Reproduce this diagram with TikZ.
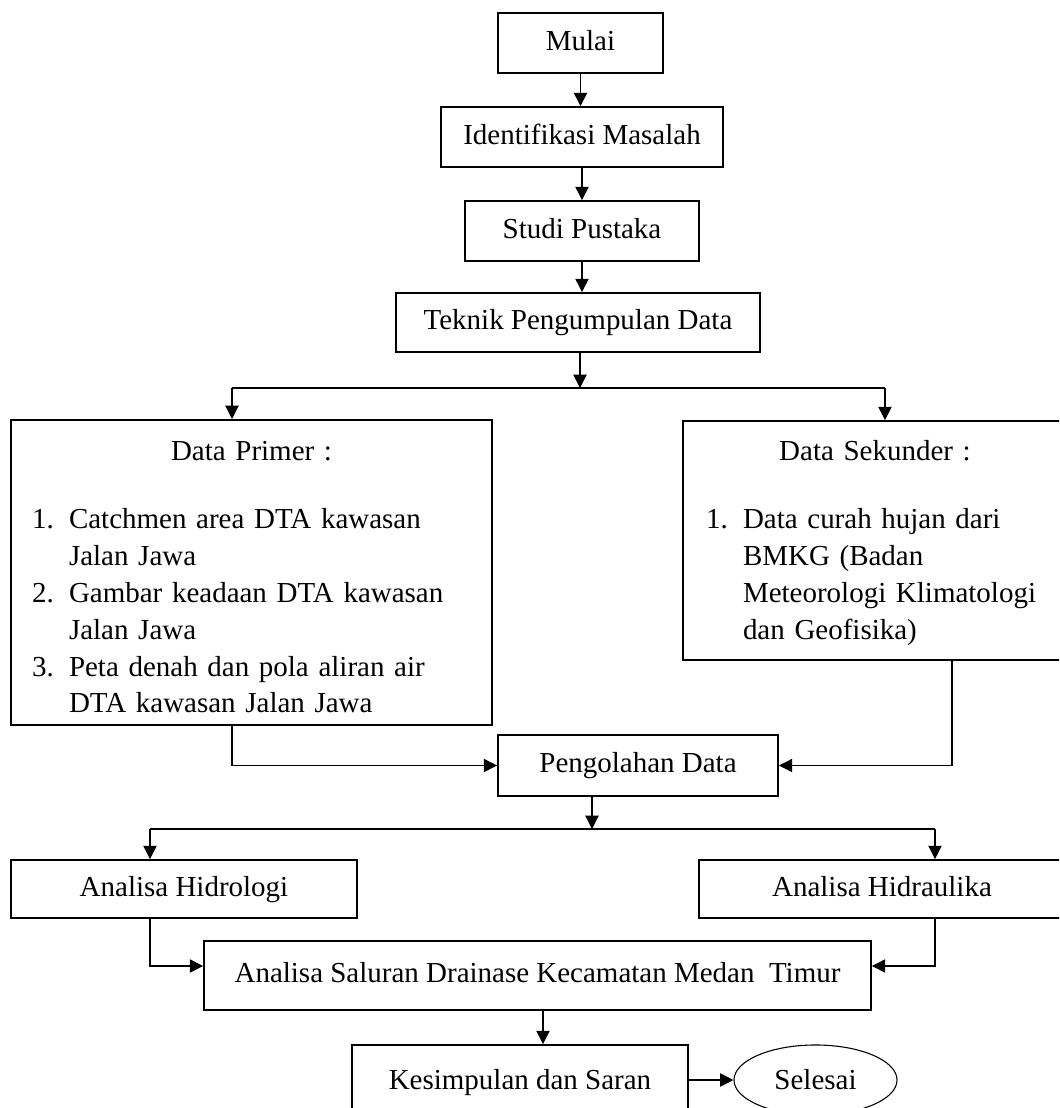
\documentclass[tikz,border=0pt]{standalone}
\usepackage{fontspec}
\setmainfont{Liberation Serif}
\usetikzlibrary{arrows.meta,shapes.geometric}
\begin{document}
\begin{tikzpicture}[x=0.414pt, y=-0.414pt, font=\fontsize{12}{15.3}\selectfont,
    line join=miter, >={Triangle[length=5.5pt,width=5.5pt]},
    kotak/.style={draw, line width=0.8pt, inner sep=0pt, minimum height=24.8pt, text height=8.3pt, text depth=2.5pt},
    daftar/.style={draw, line width=0.8pt, inner ysep=0pt, align=left},
    bulat/.style={draw, ellipse, line width=0.45pt, inner sep=0pt},
    garis/.style={line width=0.45pt}]
    \useasboundingbox (0,0) rectangle (1059,1108);
    \clip (0,0) rectangle (1059,1108);
    \node[kotak, minimum width=68.3pt] (mulai) at (580.5,43) {Mulai};
    \node[kotak, minimum width=116.7pt] (ident) at (582,137) {Identifikasi Masalah};
    \node[kotak, minimum width=96.9pt] (studi) at (582,231) {Studi Pustaka};
    \node[kotak, minimum width=150.7pt, minimum height=24.4pt] (teknik) at (578,322.5) {Teknik Pengumpulan Data};
    \node[daftar, inner xsep=8.7pt, text width=181.7pt, minimum height=126.3pt] (primer) at (251.5,572.5) {%
        {\centering\rule{0pt}{16.2pt}Data Primer :\par}\vspace{12.9pt}
        \begin{tabular}[t]{@{}l@{\hspace{6.3pt}}l@{}}
        1. & Catchmen area DTA kawasan\\
           & Jalan Jawa\\
        2. & Gambar keadaan DTA kawasan\\
           & Jalan Jawa\\
        3. & Peta denah dan pola aliran air\\
           & DTA kawasan Jalan Jawa
        \end{tabular}};
    \node[daftar, inner xsep=9.5pt, text width=139.9pt, minimum height=98.9pt] (sekunder) at (875,540.5) {%
        {\centering\rule{0pt}{12.5pt}Data Sekunder :\par}\vspace{12.9pt}
        \begin{tabular}[t]{@{}l@{\hspace{6.3pt}}l@{}}
        1. & Data curah hujan dari\\
           & BMKG (Badan\\
           & Meteorologi Klimatologi\\
           & dan Geofisika)
        \end{tabular}};
    \node[kotak, minimum width=115.9pt, minimum height=25.3pt] (pengolahan) at (638,765.5) {Pengolahan Data};
    \node[kotak, minimum width=143.2pt, minimum height=24pt] (hidrologi) at (184,889) {Analisa Hidrologi};
    \node[kotak, minimum width=151.5pt, minimum height=24pt] (hidraulika) at (882,889) {Analisa Hidraulika};
    \node[kotak, minimum width=276.1pt, minimum height=28.6pt] (saluran) at (537.5,975.5) {Analisa Saluran Drainase Kecamatan Medan~~Timur};
    \node[kotak, minimum width=139.1pt, minimum height=30.6pt] (kesimpulan) at (520,1082) {Kesimpulan dan Saran};
    \node[bulat, minimum width=67.5pt, minimum height=29pt] (selesai) at (815.5,1080) {Selesai};
    \coordinate (cabang1) at (580,388);
    \coordinate (kiri1) at (232,388);
    \coordinate (kanan1) at (885,388);
    \coordinate (turunsek) at (952,700);
    \coordinate (cabang2) at (592,829);
    \coordinate (kiri2) at (150,829);
    \coordinate (kanan2) at (935,829);
    \coordinate (gabung) at (0,966);
    \coordinate (turun) at (543,1020);
    \foreach \a/\b in {mulai/ident, ident/studi, studi/teknik}
        \draw[garis,->] (\a.south) -- (\a.south |- \b.north);
    \draw[garis,->] (teknik.south -| cabang1) -- (cabang1);
    \draw[garis] (kiri1) -- (kanan1);
    \draw[garis,->] (kiri1) -- (kiri1 |- primer.north);
    \draw[garis,->] (kanan1) -- (kanan1 |- sekunder.north);
    \draw[garis,->] (primer.south -| kiri1) |- (pengolahan.west);
    \draw[garis,->] (sekunder.south -| turunsek) |- (pengolahan.east);
    \draw[garis,->] (pengolahan.south -| cabang2) -- (cabang2);
    \draw[garis] (kiri2) -- (kanan2);
    \draw[garis,->] (kiri2) -- (kiri2 |- hidrologi.north);
    \draw[garis,->] (kanan2) -- (kanan2 |- hidraulika.north);
    \draw[garis,->] (hidrologi.south -| kiri2) |- (saluran.west |- gabung);
    \draw[garis,->] (hidraulika.south -| kanan2) |- (saluran.east |- gabung);
    \draw[garis,->] (saluran.south -| turun) -- (kesimpulan.north -| turun);
    \draw[garis,->] (kesimpulan.east |- selesai.west) -- (selesai.west);
\end{tikzpicture}
\end{document}
